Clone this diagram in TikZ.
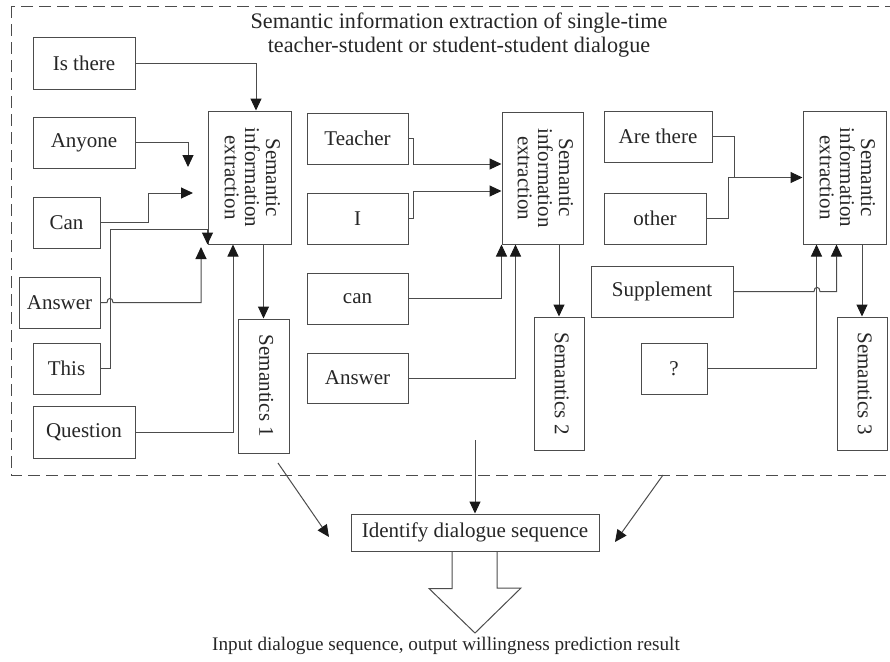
\documentclass[tikz,border=0pt]{standalone}
\usepackage{fontspec}
\setmainfont{Liberation Serif}
\usepackage{graphicx}
\usetikzlibrary{arrows.meta}
\tikzset{box/.style={draw=black!70, line width=0.5pt, fill=white, inner sep=0pt, text=black!85},
  conn/.style={draw=black!70, line width=0.5pt},
  arr/.style={conn, -{Triangle[length=6pt,width=5.5pt,color=black!90]}}}
\newcommand{\vtext}[1]{\rotatebox{-90}{\renewcommand{\arraystretch}{0.85}\begin{tabular}{@{}c@{}}#1\end{tabular}}}

\begin{document}
\begin{tikzpicture}[x=0.5pt, y=-0.5pt, font=\fontsize{10.5}{12}\selectfont]
\useasboundingbox (0,0) rectangle (890,661);
\draw[black!70, line width=0.5pt, dash pattern=on 6pt off 3pt] (11,6) rectangle (894,475);
\node[align=center, text=black!85, font=\fontsize{11.1}{11.6}\selectfont] (title) at (459,35) {Semantic information extraction of single-time\\teacher-student or student-student dialogue};

\node[box, minimum width=51pt, minimum height=26pt] (isthere) at (84,63) {Is there};
\node[box, minimum width=51pt, minimum height=25.5pt] (anyone) at (84,142.5) {Anyone};
\node[box, minimum width=33.5pt, minimum height=25.5pt] (can) at (66.5,222.5) {Can};
\node[box, minimum width=40.5pt, minimum height=25.5pt] (answerA) at (59.5,302.5) {Answer};
\node[box, minimum width=33.5pt, minimum height=25.5pt] (this) at (66.5,368.5) {This};
\node[box, minimum width=51pt, minimum height=26pt] (question) at (84,432) {Question};
\node[box, minimum width=41.5pt, minimum height=66.5pt] (sieA) at (249.5,177.5) {\vtext{Semantic\\information\\extraction}};
\node[box, minimum width=25.5pt, minimum height=67pt] (semA) at (263.5,386) {\vtext{Semantics 1}};

\node[box, minimum width=50.5pt, minimum height=25.5pt] (teacher) at (357.5,138.5) {Teacher};
\node[box, minimum width=50.5pt, minimum height=25.5pt] (iword) at (357.5,218.5) {I};
\node[box, minimum width=50.5pt, minimum height=25.5pt] (canB) at (357.5,298.5) {can};
\node[box, minimum width=50.5pt, minimum height=25pt] (answerB) at (357.5,378) {Answer};
\node[box, minimum width=40.5pt, minimum height=66pt] (sieB) at (542.5,178) {\vtext{Semantic\\information\\extraction}};
\node[box, minimum width=25pt, minimum height=66.5pt] (semB) at (559,383.5) {\vtext{Semantics 2}};

\node[box, minimum width=54pt, minimum height=25.5pt] (arethere) at (658,136.5) {Are there};
\node[box, minimum width=51pt, minimum height=25.5pt] (other) at (655,218.5) {other};
\node[box, minimum width=71pt, minimum height=25.5pt] (supplement) at (662,291.5) {Supplement};
\node[box, minimum width=33pt, minimum height=25.5pt] (qmark) at (674,368.5) {?};
\node[box, minimum width=41.5pt, minimum height=66.5pt] (sieC) at (844.5,177.5) {\vtext{Semantic\\information\\extraction}};
\node[box, minimum width=25pt, minimum height=66.5pt] (semC) at (862,383.5) {\vtext{Semantics 3}};

\node[box, minimum width=124pt, minimum height=18.5pt] (identify) at (475,532.5) {Identify dialogue sequence};
\node[text=black!85, font=\fontsize{9.6}{11}\selectfont] (result) at (446,646) {Input dialogue sequence, output willingness prediction result};

\coordinate (anyoneend) at (188,167);
\coordinate (canend) at (193,193);
\coordinate (answerAend) at (201,247);
\coordinate (leftstart) at (278,463);
\coordinate (leftend) at (329,537);
\coordinate (rightstart) at (663,475);
\coordinate (rightend) at (615,542);
\coordinate (midstart) at (475,440);

\draw[arr] (isthere.east) -| ([xshift=3.25pt]sieA.north);
\draw[arr] (anyone.east) -| (anyoneend);
\draw[arr] (can.east) -- (148,222.5) |- (canend);
\draw[arr] (this.east) -- (110,368.5) -- (110,229) -| (sieA.south west);
\draw[arr] (answerA.east) -- (107,302.5) .. controls (107,297) and (113,297) .. (113,302.5) -| (answerAend);
\draw[arr] (question.east) -| ([xshift=-8.25pt]sieA.south);
\draw[arr] (sieA.south -| semA.north) -- (semA.north);

\draw[arr] (teacher.east) -- ++(2.5pt,0) |- ([yshift=7pt]sieB.west);
\draw[arr] (iword.east) -- ++(2.5pt,0) |- ([yshift=-6.5pt]sieB.west);
\draw[arr] (canB.east) -| (sieB.south west);
\draw[arr] (answerB.east) -| ([xshift=7pt]sieB.south west);
\draw[arr] (sieB.south -| semB.north) -- (semB.north);

\draw[arr] (arethere.east) -- (734,136.5) |- (sieC.west);
\draw[conn] (other.east) -- (728,218.5) |- (734,177.5);
\draw[arr] (supplement.east) -- (814,291.5) .. controls (814,286) and (820,286) .. (820,291.5) -| ([xshift=17pt]sieC.south west);
\draw[arr] (qmark.east) -| ([xshift=7pt]sieC.south west);
\draw[arr] (sieC.south -| semC.north) -- (semC.north);

\draw[arr] (leftstart) -- (leftend);
\draw[arr] (rightstart) -- (rightend);
\draw[arr] (midstart) -- (identify.north);
\draw[conn] ([xshift=-11.5pt]identify.south) -- ++(0,37) -- ++(-23,0) -- (475,633) -- (521,588) -- (497,588) -- ([xshift=11pt]identify.south);
\end{tikzpicture}
\end{document}
